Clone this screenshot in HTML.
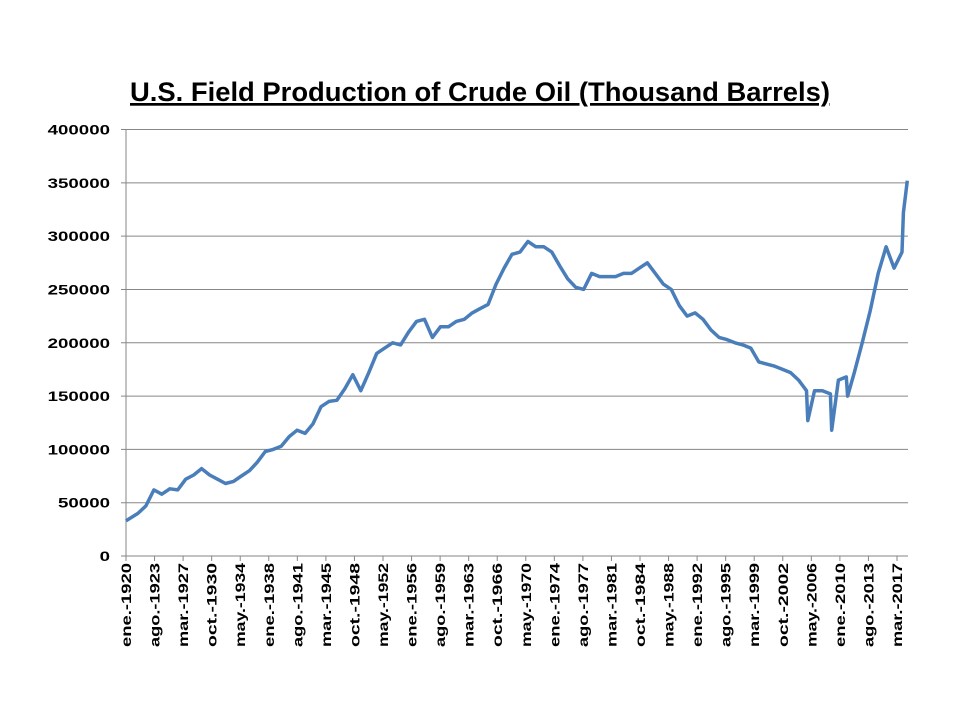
<!DOCTYPE html>
<html><head><meta charset="utf-8"><style>
body{margin:0;background:#fff;width:960px;height:720px;overflow:hidden}
text{font-family:"Liberation Sans",sans-serif}
</style></head><body>
<svg id="chart" width="960" height="720" xmlns="http://www.w3.org/2000/svg">
<text x="130" y="101" textLength="700" lengthAdjust="spacingAndGlyphs" font-size="27" font-weight="bold" text-decoration="underline">U.S. Field Production of Crude Oil (Thousand Barrels)</text>
<g id="grid"></g><g id="yaxis"></g><g id="xaxis"></g><g id="series"></g>
</svg>
<script>
const startYear = 1920;
const annualValues = [33000,40000,47000,62000,58000,63000,62000,72000,76000,82000,
76000,72000,68000,70000,75000,80000,88000,98000,100000,103000,
112000,118000,115000,124000,140000,145000,146000,157000,170000,155000,
172000,190000,195000,200000,198000,210000,220000,222000,205000,215000,
215000,220000,222000,228000,232000,236000,255000,270000,283000,285000,
295000,290000,290000,285000,272000,260000,252000,250000,265000,262000,
262000,262000,265000,265000,270000,275000,265000,255000,250000,235000,
225000,228000,222000,212000,205000,203000,200000,198000,195000,182000,
180000,178000,175000,172000,165000,155000,155000,155000,152000,165000,
168000,172000,200000,230000,265000,290000,270000,285000,322000];
const spikeMonths = [1028,1064,1088,1178];
const spikeValues = [127000,118000,150000,352000];
const yTicks = [0,50000,100000,150000,200000,250000,300000,350000,400000];
const xLabels = ["ene.-1920","ago.-1923","mar.-1927","oct.-1930","may.-1934","ene.-1938","ago.-1941","mar.-1945","oct.-1948","may.-1952","ene.-1956","ago.-1959","mar.-1963","oct.-1966","may.-1970","ene.-1974","ago.-1977","mar.-1981","oct.-1984","may.-1988","ene.-1992","ago.-1995","mar.-1999","oct.-2002","may.-2006","ene.-2010","ago.-2013","mar.-2017"];

const NS="http://www.w3.org/2000/svg";
const X0=126,X1=908,Y0=556,Y1=129.5,TOTAL=1179;
const xs=m=>X0+Math.min(m,TOTAL)*(X1-X0)/TOTAL;
const ys=v=>Y0-v*(Y0-Y1)/400000;
function mk(tag,attrs,parent){const e=document.createElementNS(NS,tag);for(const k in attrs)e.setAttribute(k,attrs[k]);parent.appendChild(e);return e;}
const grid=document.getElementById('grid'),ya=document.getElementById('yaxis'),xa=document.getElementById('xaxis'),se=document.getElementById('series');
yTicks.forEach(v=>{
  const l=mk('line',{x1:X0-5,x2:X1,y1:ys(v),y2:ys(v),stroke:'#868686','stroke-width':1},grid);
  
  
  const s=String(v);
  const t=mk('text',{x:110,y:ys(v)+5,'text-anchor':'end','font-size':14,'font-weight':'bold',textLength:s.length*10.4,lengthAdjust:'spacingAndGlyphs'},ya);
  t.textContent=s;
  
  
});
const ax=mk('line',{x1:X0,x2:X0,y1:Y1,y2:Y0+5,stroke:'#868686','stroke-width':1},ya);


const step=(897-X0)/(xLabels.length-1);
xLabels.forEach((s,i)=>{
  const x=X0+i*step;
  const tk=mk('line',{x1:x,x2:x,y1:Y0,y2:Y0+5,stroke:'#868686'},xa);
  
  
  const t=mk('text',{x:0,y:0,transform:`translate(${x+5},563) rotate(-90)`,'text-anchor':'end','font-size':14,'font-weight':'bold',textLength:84,lengthAdjust:'spacingAndGlyphs'},xa);
  t.textContent=s;
  
  
});
let pts=annualValues.map((v,i)=>[i===0?0:Math.min(i*12+6,1172),v]);
spikeMonths.forEach((m,i)=>pts.push([m,spikeValues[i]]));
pts.sort((a,b)=>a[0]-b[0]);
const d=pts.map((p,i)=>(i?'L':'M')+xs(p[0]).toFixed(1)+','+ys(p[1]).toFixed(1)).join(' ');
const path=mk('path',{d:d,fill:'none',stroke:'#4a7ebb','stroke-width':3.5,'stroke-linejoin':'round'},se);


</script>
</body></html>
